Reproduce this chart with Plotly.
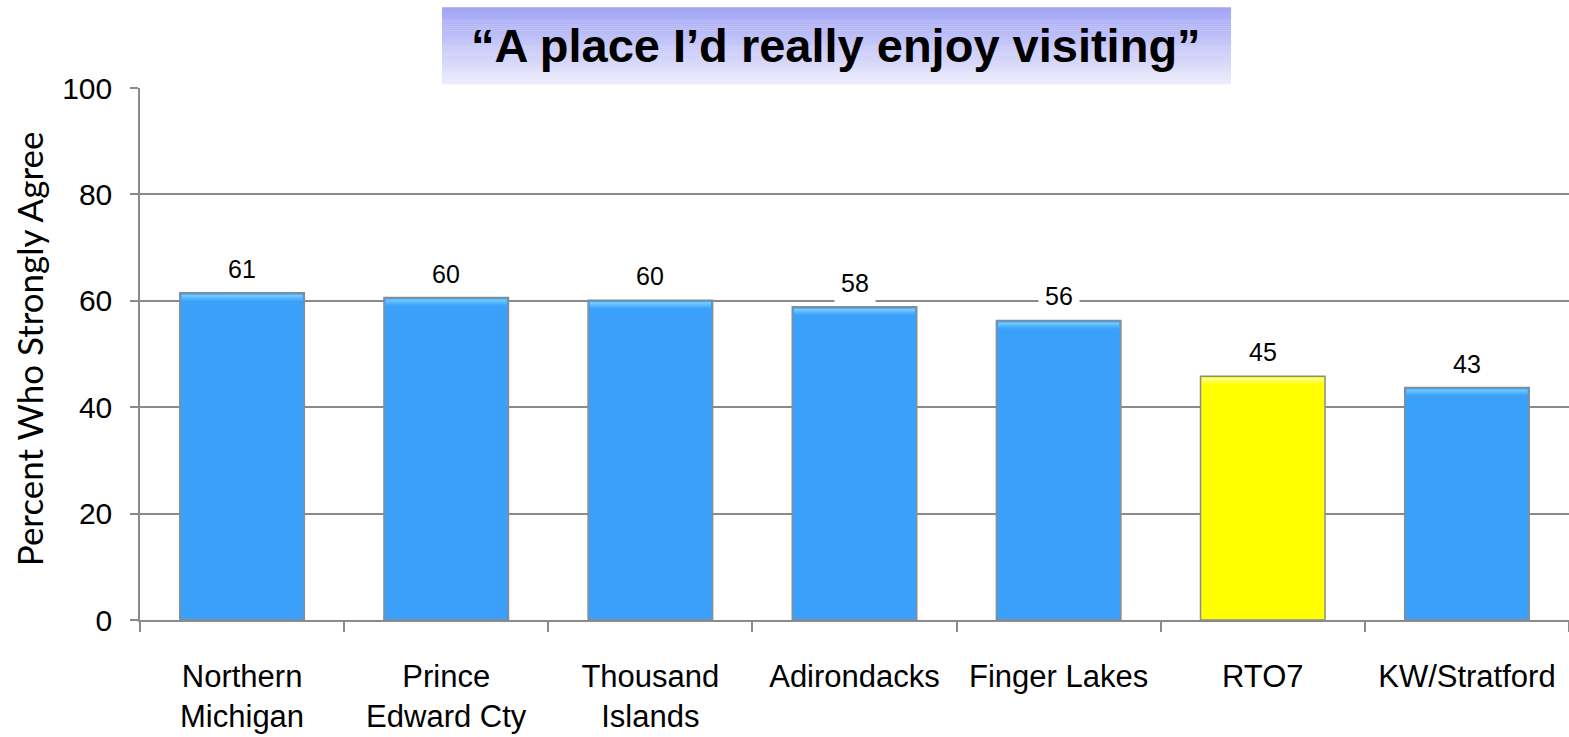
import plotly.graph_objects as go

# data
REGIONS = ["Northern<br>Michigan", "Prince<br>Edward Cty", "Thousand<br>Islands",
           "Adirondacks", "Finger Lakes", "RTO7", "KW/Stratford"]
PCT = [61.5, 60.6, 60.1, 58.9, 56.3, 45.8, 43.7]
LABELS = ["61", "60", "60", "58", "56", "45", "43"]
HIGHLIGHT = "RTO7"
Y_TICKS = [0, 20, 40, 60, 80, 100]

TITLE = "\u201cA place I\u2019d really enjoy visiting\u201d"
Y_TITLE = "Percent Who Strongly Agree"

BLUE = "#3aa0fa"
BLUE_TOP = "#8ad9fd"
YELLOW = "#ffff00"
YELLOW_TOP = "#ffffb0"
EDGE = "#8c8c8c"
GRID = "#8a8a8a"
SANS = "Liberation Sans, Arial, sans-serif"


def lerp(c0, c1, t):
    a = [int(c0[i:i + 2], 16) for i in (1, 3, 5)]
    b = [int(c1[i:i + 2], 16) for i in (1, 3, 5)]
    return "#" + "".join(f"{round(x + (y - x) * t):02x}" for x, y in zip(a, b))


is_hi = [r.replace("<br>", " ") == HIGHLIGHT for r in REGIONS]
fill = [YELLOW if h else BLUE for h in is_hi]

fig = go.Figure(go.Bar(
    x=REGIONS, y=PCT, width=0.61,
    marker=dict(color=fill, line=dict(color=EDGE, width=1.5)),
    hoverinfo="x+y", showlegend=False))

shapes = []
# light bevel along each bar top
for i, (v, h) in enumerate(zip(PCT, is_hi)):
    top = YELLOW_TOP if h else BLUE_TOP
    base = YELLOW if h else BLUE
    for k in range(6):
        shapes.append(dict(
            type="rect", xref="x", yref="y", ysizemode="pixel", yanchor=v,
            x0=i - 0.297, x1=i + 0.297, y0=-2 - k - 1, y1=-2 - k,
            fillcolor=lerp(top, base, k / 6), line=dict(width=0), layer="above"))

# title box with a vertical gradient
X0, X1, Y0, Y1 = 0.2113, 0.7635, 1.0075, 1.152
N = 40
for k in range(N):
    shapes.append(dict(
        type="rect", xref="paper", yref="paper",
        x0=X0, x1=X1, y0=Y1 - (Y1 - Y0) * (k + 1) / N - 0.0005,
        y1=Y1 - (Y1 - Y0) * k / N,
        fillcolor=lerp("#a2a5f5", "#ebebfb", k / (N - 1)), line=dict(width=0)))

annotations = [
    dict(x=(X0 + X1) / 2, y=(Y0 + Y1) / 2, xref="paper", yref="paper",
         xanchor="center", yanchor="middle",
         text=f"<b>{TITLE}</b>", showarrow=False,
         font=dict(family=SANS, size=47, color="black")),
    dict(x=0, y=0.509, xref="paper", yref="paper", xshift=-111,
         xanchor="center", yanchor="middle",
         text=Y_TITLE, textangle=-90, showarrow=False,
         font=dict(family="Lato, Open Sans, sans-serif", size=35, color="black")),
]
for r, v, lab in zip(REGIONS, PCT, LABELS):
    annotations.append(dict(
        x=r, y=v, xref="x", yref="y", text=lab, showarrow=False,
        xanchor="center", yanchor="middle", yshift=24,
        bgcolor="white", borderpad=6,
        font=dict(family=SANS, size=25, color="black")))

fig.update_layout(
    width=1569, height=737,
    margin=dict(l=140, r=0, t=88, b=117),
    paper_bgcolor="white", plot_bgcolor="white",
    shapes=shapes, annotations=annotations,
    xaxis=dict(showline=True, linecolor=GRID, linewidth=1.5, automargin=False,
               ticks="outside", tickson="boundaries", ticklen=10,
               tickcolor=GRID, tickwidth=1.5, ticklabelstandoff=28,
               tickfont=dict(family=SANS, size=31, color="black"),
               showgrid=False),
    yaxis=dict(range=[0, 100], tickvals=Y_TICKS, showline=True, automargin=False,
               linecolor=GRID, linewidth=1.5, ticks="outside", ticklen=8,
               tickcolor=GRID, tickwidth=1.5, gridcolor=GRID, gridwidth=1.5,
               zeroline=False, ticklabelstandoff=12,
               tickfont=dict(family=SANS, size=30, color="black")),
)

# drop the default page margin so the figure sits at the window corner
fig.write_html("out.html", config={"displayModeBar": False},
               post_script="document.body.style.margin='0';"
                           "document.body.style.overflow='hidden';")
